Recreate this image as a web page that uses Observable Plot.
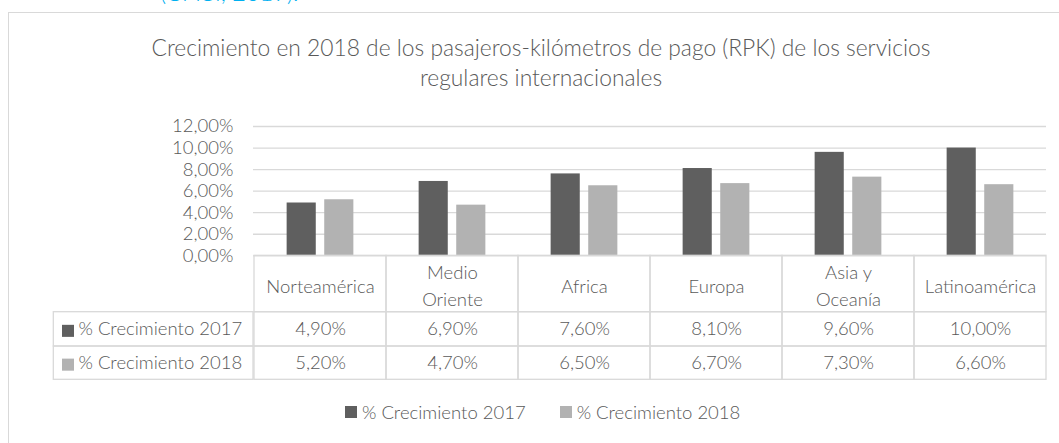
<!DOCTYPE html>
<html><head><meta charset="utf-8">
<script src="https://cdn.jsdelivr.net/npm/d3@7"></script>
<script src="https://cdn.jsdelivr.net/npm/@observablehq/plot@0.6"></script>
<style>
body{margin:0;background:#fff;}
#wrap{position:relative;width:1059px;height:443px;overflow:hidden;font-family:Lato,sans-serif;font-weight:300;color:#595959;background:#fff;}
#src{position:absolute;left:160px;top:-19.5px;font-size:23.5px;line-height:23px;color:#00b0f0;white-space:nowrap;}
#frame{position:absolute;left:8px;top:12px;width:1200px;height:600px;border-left:1.3px solid #d9d9d9;border-top:1.3px solid #d9d9d9;}
#title{position:absolute;left:0;width:1082px;top:32.3px;text-align:center;font-size:22.8px;line-height:30px;color:#595959;}
#chart{position:absolute;left:0;top:0;}
#legend{position:absolute;left:345px;top:395.5px;}
#legend .lg-swatches, #legend .lg-swatches-wrap{font-family:Lato,sans-serif !important;font-weight:300 !important;font-size:18.5px !important;color:#595959 !important;margin:0 !important;min-height:33px;}
#legend .lg-swatch{margin-right:34px !important;}
#legend .lg-swatch > svg{margin-right:5px !important;}
</style>
</head><body>
<div id="wrap">
  <div id="src">(OACI, 2019).</div>
  <div id="frame"></div>
  <div id="title">Crecimiento en 2018 de los pasajeros-kilómetros de pago (RPK) de los servicios<br>regulares internacionales</div>
  <div id="chart"></div>
  <div id="legend"></div>
</div>
<script>
// ---- data ----
const regions = ["Norteamérica", "Medio Oriente", "Africa", "Europa", "Asia y Oceanía", "Latinoamérica"];
const headerLabels = ["Norteamérica", "Medio\nOriente", "Africa", "Europa", "Asia y\nOceanía", "Latinoamérica"];
const seriesNames = ["% Crecimiento 2017", "% Crecimiento 2018"];
const growth2017 = [4.9, 6.9, 7.6, 8.1, 9.6, 10.0];
const growth2018 = [5.2, 4.7, 6.5, 6.7, 7.3, 6.6];
const yTicks = [0, 2, 4, 6, 8, 10, 12];

// ---- layout ----
const W = 1059, H = 443;
const mL = 253, mR = 13, mT = 126, mB = H - 255.3;
const frameW = W - mL - mR;
const bw = frameW / regions.length;
const barW = 29.3, gap = 8.3;
const off = (bw - (2 * barW + gap)) / 2;
const pxU = (H - mB - mT) / 12;               // pixels per y unit
const toU = px => -px / pxU;                  // px below baseline -> y units
const rowEdges = [0, 56.4, 90.7, 124].map(toU);
const rowMid = i => (rowEdges[i] + rowEdges[i + 1]) / 2;
const fmt = v => v.toFixed(2).replace(".", ",") + "%";
const colors = ["#5f5f5f", "#b2b2b2"];
const gridColor = "#d9d9d9";

const values = [growth2017, growth2018];
const data = seriesNames.flatMap((s, si) => regions.map((r, i) => ({region: r, series: s, si, value: values[si][i]})));
const header = regions.map((r, i) => ({region: r, label: headerLabels[i], y1: rowEdges[0], y2: rowEdges[1], mid: rowMid(0)}));
const body = seriesNames.map((s, si) => ({series: s, y1: rowEdges[si + 1], y2: rowEdges[si + 2], mid: rowMid(si + 1)}));
const bodyCells = data.map(d => ({...d, y1: rowEdges[d.si + 1], y2: rowEdges[d.si + 2], mid: rowMid(d.si + 1)}));

const line = {fill: "none", stroke: gridColor, strokeWidth: 1.3};

const plot = Plot.plot({
  width: W, height: H,
  marginLeft: mL, marginRight: mR, marginTop: mT, marginBottom: mB,
  style: {fontFamily: "Lato, sans-serif", fontWeight: 300, fontSize: "18.5px", color: "#595959", background: "transparent", overflow: "visible"},
  x: {type: "band", domain: regions, padding: 0, axis: null},
  y: {domain: [0, 12], ticks: yTicks, tickFormat: fmt, tickSize: 0, tickPadding: 20, label: null},
  color: {domain: seriesNames, range: colors},
  marks: [
    Plot.ruleY(yTicks, {stroke: gridColor, strokeWidth: 1.3}),
    Plot.barY(data.filter(d => d.si === 0), {x: "region", y: "value", fill: "series", insetLeft: off, insetRight: bw - off - barW}),
    Plot.barY(data.filter(d => d.si === 1), {x: "region", y: "value", fill: "series", insetLeft: off + barW + gap, insetRight: off}),
    // table: header cells
    Plot.barY(header, {x: "region", y1: "y1", y2: "y2", ...line}),
    Plot.text(header, {x: "region", y: "mid", text: "label", lineHeight: 1.45, lineAnchor: "middle", fill: "#595959"}),
    // table: body rows incl. label column
    Plot.barY(body, {y1: "y1", y2: "y2", insetLeft: -(mL - 53.3), insetRight: frameW, ...line}),
    Plot.barY(bodyCells, {x: "region", y1: "y1", y2: "y2", ...line}),
    Plot.dot(body, {y: "mid", fill: "series", symbol: "square", r: 6.8, frameAnchor: "left", dx: -(mL - 67.5), dy: 1.5}),
    Plot.text(body, {y: "mid", text: "series", frameAnchor: "left", dx: -(mL - 78), textAnchor: "start", lineAnchor: "middle", fill: "#595959"}),
    Plot.text(bodyCells, {x: "region", y: "mid", text: d => fmt(d.value), lineAnchor: "middle", fill: "#595959"})
  ]
});
document.getElementById("chart").append(plot);
document.getElementById("legend").append(plot.legend("color", {className: "lg", swatchSize: 12}));
</script>
</body></html>
